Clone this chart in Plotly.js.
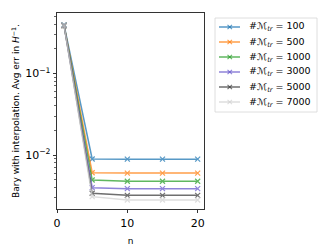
<!DOCTYPE html>
<html><head><meta charset="utf-8">
<script src="https://cdn.plot.ly/plotly-3.0.1.min.js"></script>
<style>body{margin:0;background:#fff}#c{width:332px;height:249px}</style>
</head><body><div id="c"></div>
<script>
const nVals = [1, 5, 10, 15, 20];
const labels = ["100", "500", "1000", "3000", "5000", "7000"];
const err100  = [0.390, 0.00894, 0.00890, 0.00890, 0.00890];
const err500  = [0.385, 0.00607, 0.00600, 0.00600, 0.00600];
const err1000 = [0.385, 0.00494, 0.00477, 0.00477, 0.00477];
const err3000 = [0.385, 0.00398, 0.00387, 0.00387, 0.00387];
const err5000 = [0.385, 0.00340, 0.00321, 0.00321, 0.00321];
const err7000 = [0.385, 0.00309, 0.00281, 0.00281, 0.00281];
const series = [err100, err500, err1000, err3000, err5000, err7000];
const colors = ["#1f77b4", "#ff7f0e", "#2ca02c", "#6a5acd", "#404040", "#d3d3d3"];

const W = 332, H = 249, ML = 57, MR = 128, MT = 13, MB = 40;
const PW = W - ML - MR, PH = H - MT - MB;
const px = v => (v - ML) / PW;           // pixel -> paper x
const py = v => (H - MB - v) / PH;       // pixel -> paper y

const traces = series.map((ys, i) => ({
  x: nVals, y: ys, type: "scatter", mode: "lines+markers",
  name: "#ℳ<sub><i>tr</i></sub> = " + labels[i],
  opacity: 0.75, showlegend: false,
  line: {color: colors[i], width: 1.5},
  marker: {symbol: "x-thin", size: 5, line: {color: colors[i], width: 1.2}, color: colors[i]}
}));

// custom compact legend (matplotlib-like spacing)
const shapes = [{
  type: "rect", xref: "paper", yref: "paper",
  x0: px(215), x1: px(317), y0: py(112), y1: py(18),
  line: {color: "#d6d6d6", width: 0.8}, fillcolor: "rgba(255,255,255,0.8)"
}];
const annotations = [];
labels.forEach((lab, i) => {
  const yc = 27 + 15 * i;
  shapes.push({type: "line", xref: "paper", yref: "paper",
    x0: px(219), x1: px(240), y0: py(yc), y1: py(yc),
    line: {color: colors[i], width: 1.5}, opacity: 0.75});
  shapes.push({type: "line", xref: "paper", yref: "paper",
    x0: px(227.5), x1: px(232), y0: py(yc - 2.2), y1: py(yc + 2.2),
    line: {color: colors[i], width: 1.1}, opacity: 0.75});
  shapes.push({type: "line", xref: "paper", yref: "paper",
    x0: px(227.5), x1: px(232), y0: py(yc + 2.2), y1: py(yc - 2.2),
    line: {color: colors[i], width: 1.1}, opacity: 0.75});
  annotations.push({xref: "paper", yref: "paper", x: px(247), y: py(yc),
    xanchor: "left", yanchor: "middle", showarrow: false,
    text: "#ℳ<sub><i>tr</i></sub> = " + lab, font: {size: 9.5, color: "#000"}});
});

const minors = [];
[0.001, 0.01, 0.1].forEach(d => { for (let k = 2; k <= 9; k++) minors.push(d * k); });

const layout = {
  width: W, height: H,
  margin: {l: ML, r: MR, t: MT, b: MB},
  paper_bgcolor: "#fff", plot_bgcolor: "#fff",
  font: {family: "DejaVu Sans", color: "#000"},
  showlegend: false,
  shapes: shapes, annotations: annotations,
  xaxis: {
    range: [0, 20.9], tickvals: [0, 10, 20], ticktext: ["0", "10", "20"],
    ticks: "outside", ticklen: 3.5, tickwidth: 0.8, tickcolor: "#000",
    showline: true, linecolor: "#000", linewidth: 0.8, mirror: true,
    showgrid: false, zeroline: false, tickfont: {size: 11},
    title: {text: "n", font: {size: 9}, standoff: 9}
  },
  yaxis: {
    type: "log", range: [-2.661, -0.262],
    tickvals: [0.01, 0.1], ticktext: ["10<sup>−2</sup>", "10<sup>−1</sup>"],
    ticks: "outside", ticklen: 3.5, tickwidth: 0.8, tickcolor: "#000",
    minor: {tickvals: minors, ticks: "outside", ticklen: 2, tickwidth: 0.6, tickcolor: "#000", showgrid: false},
    showline: true, linecolor: "#000", linewidth: 0.8, mirror: true,
    showgrid: false, zeroline: false, tickfont: {size: 11},
    title: {text: "Bary with interpolation. Avg err in <i>H</i><sup>−1</sup>.", font: {size: 9}, standoff: 3}
  }
};
Plotly.newPlot("c", traces, layout, {staticPlot: true, displayModeBar: false});
</script></body></html>
